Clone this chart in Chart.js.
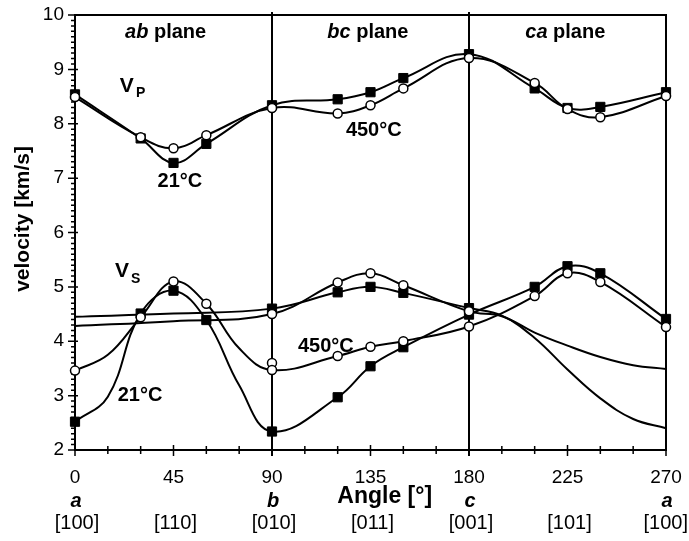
<!DOCTYPE html>
<html>
<head>
<meta charset="utf-8">
<script src="https://cdn.jsdelivr.net/npm/chart.js@4.4.1/dist/chart.umd.min.js"></script>
<style>
  body { margin: 0; background: #fff; }
</style>
</head>
<body>
<canvas id="chart" width="689" height="541"></canvas>
<script>
// measured directions (degrees)
const anglesVp = [0, 30, 45, 60, 90, 120, 135, 150, 180, 210, 225, 240, 270];
// Vs curves also read at a few unmarked angles to keep their shape
const anglesA = [0, 15, 30, 45, 60, 75, 90, 120, 135, 150, 180, 210, 225, 240, 270];
const anglesB = [0, 45, 90, 120, 135, 150, 180, 195, 210, 225, 240, 255, 270];
const markedA = [0, 30, 45, 60, 90, 120, 135, 150, 180, 210, 225, 240, 270];
const markedB = [90, 120, 135, 150, 180];

// Vp [km/s]
const vp21 = [8.54, 7.73, 7.28, 7.63, 8.34, 8.45, 8.58, 8.84, 9.28, 8.65, 8.29, 8.31, 8.58];
const vp450 = [8.49, 7.75, 7.55, 7.79, 8.29, 8.19, 8.34, 8.65, 9.21, 8.75, 8.27, 8.12, 8.51];

// Vs [km/s]: curve A peaks at 45 and 225, curve B peaks at 135
const vsA21 = [2.52, 2.98, 4.51, 4.93, 4.39, 3.19, 2.34, 2.97, 3.54, 3.89, 4.49, 5.00, 5.38, 5.25, 4.41];
const vsA450 = [3.46, 3.75, 4.44, 5.10, 4.69, 3.87, 3.47, 3.73, 3.90, 4.00, 4.27, 4.83, 5.25, 5.09, 4.26];
const vsB21 = [4.45, 4.51, 4.60, 4.90, 5.00, 4.89, 4.61, 4.47, 4.06, 3.48, 2.95, 2.57, 2.40];
const vsB450 = [4.28, 4.37, 4.50, 5.08, 5.25, 5.03, 4.55, 4.46, 4.16, 3.92, 3.71, 3.56, 3.49];
// second 450 °C reading along b (end of the ab-plane scan)
const anglesExtra450 = [90];
const vsExtra450 = [3.60];

// labels under the x axis
const planeEdges = [90, 180];
const axisLetterAngles = [0, 90, 180, 270];
const axisLetters = ['a', 'b', 'c', 'a'];
const directionAngles = [0, 45, 90, 135, 180, 225, 270];
const directions = ['[100]', '[110]', '[010]', '[011]', '[001]', '[101]', '[100]'];

const FF = '"Liberation Sans", Arial, sans-serif';

function series(angles, values, marker, marked, line) {
  const show = marked || angles;
  const size = marker === 'square' ? 6.5 : marker === 'circle' ? 4.5 : 0;
  const ds = {
    data: angles.map((a, i) => ({ x: a, y: values[i] })),
    showLine: line !== false,
    borderColor: '#000',
    borderWidth: 2,
    tension: 0.4,
    fill: false,
    clip: false,
    pointRadius: c => show.includes(angles[c.dataIndex]) ? size : 0,
    pointHoverRadius: c => show.includes(angles[c.dataIndex]) ? size : 0
  };
  if (marker === 'square') {
    Object.assign(ds, { pointStyle: 'rect', pointBackgroundColor: '#000',
      pointBorderColor: '#000', pointBorderWidth: 1 });
  } else if (marker === 'circle') {
    Object.assign(ds, { pointStyle: 'circle', pointBackgroundColor: '#fff',
      pointBorderColor: '#000', pointBorderWidth: 1.5 });
  }
  return ds;
}

// first dataset is painted last (on top)
const datasets = [
  series(anglesVp, vp450, 'circle'),
  series(anglesA, vsA450, 'circle', markedA),
  series(anglesB, vsB450, 'circle', markedB),
  series(anglesExtra450, vsExtra450, 'circle', null, false),
  series(anglesVp, vp21, 'square'),
  series(anglesA, vsA21, 'square', markedA),
  series(anglesB, vsB21, 'square', markedB)
];

function text(ctx, str, px, py, font, align) {
  ctx.font = font;
  ctx.textAlign = align || 'center';
  ctx.textBaseline = 'middle';
  ctx.fillText(str, px, py);
}

// several font parts centred as one string
function mixed(ctx, parts, cx, cy) {
  let total = 0;
  parts.forEach(p => { ctx.font = p[1]; total += ctx.measureText(p[0]).width; });
  let px = cx - total / 2;
  parts.forEach(p => {
    text(ctx, p[0], px, cy, p[1], 'left');
    ctx.font = p[1];
    px += ctx.measureText(p[0]).width;
  });
}

const decor = {
  id: 'decor',
  beforeDatasetsDraw(chart) {
    const { ctx, chartArea: a, scales: { x, y } } = chart;
    ctx.save();
    ctx.strokeStyle = '#000';
    ctx.lineWidth = 2;
    ctx.strokeRect(a.left, a.top, a.right - a.left, a.bottom - a.top);
    ctx.beginPath();
    planeEdges.forEach(d => {
      const px = x.getPixelForValue(d);
      ctx.moveTo(px, a.top - 3);
      ctx.lineTo(px, a.bottom + 6);
    });
    ctx.stroke();

    ctx.lineWidth = 1.5;
    ctx.beginPath();
    for (let d = 0; d <= 270; d += 15) {
      const px = x.getPixelForValue(d);
      const major = d % 45 === 0;
      ctx.moveTo(px, a.bottom - (major ? 5 : 4));
      ctx.lineTo(px, a.bottom + (major ? 6 : 4));
    }
    for (let k = 20; k <= 100; k++) {
      const py = y.getPixelForValue(k / 10);
      const major = k % 10 === 0;
      ctx.moveTo(a.left - (major ? 7 : 4), py);
      ctx.lineTo(a.left + (major ? 3 : 0), py);
    }
    ctx.stroke();
    ctx.restore();
  },
  afterDraw(chart) {
    const { ctx, chartArea: a, scales: { x, y } } = chart;
    const X = v => x.getPixelForValue(v);
    const Y = v => y.getPixelForValue(v);
    ctx.save();
    ctx.fillStyle = '#000';

    // plane names
    const bi = 'italic bold 20px ' + FF, b = 'bold 20px ' + FF;
    mixed(ctx, [['ab', bi], [' plane', b]], X(41.4), Y(9.67));
    mixed(ctx, [['bc', bi], [' plane', b]], X(133.8), Y(9.67));
    mixed(ctx, [['ca', bi], [' plane', b]], X(224), Y(9.67));

    // wave labels
    ctx.textBaseline = 'alphabetic';
    ctx.textAlign = 'left';
    ctx.font = 'bold 21px ' + FF;
    ctx.fillText('V', X(20.5), Y(8.58));
    const w = ctx.measureText('V').width;
    ctx.font = 'bold 14px ' + FF;
    ctx.fillText('P', X(20.5) + w + 2, Y(8.58) + 5);
    ctx.font = 'bold 21px ' + FF;
    ctx.fillText('V', X(18.3), Y(5.18));
    ctx.font = 'bold 14px ' + FF;
    ctx.fillText('S', X(18.3) + w + 2, Y(5.18) + 6);

    // temperatures
    text(ctx, '21°C', X(47.9), Y(6.93), b);
    text(ctx, '450°C', X(136.5), Y(7.88), b);
    text(ctx, '450°C', X(114.6), Y(3.91), b);
    text(ctx, '21°C', X(29.7), Y(3.01), b);

    // axis titles
    text(ctx, 'Angle [°]', X(141.5), a.bottom + 47, 'bold 23px ' + FF);
    ctx.save();
    ctx.translate(23, Y(6.25));
    ctx.rotate(-Math.PI / 2);
    text(ctx, 'velocity [km/s]', 0, 0, 'bold 21px ' + FF);
    ctx.restore();

    // crystal axes and directions
    axisLetters.forEach((s, i) => text(ctx, s, X(axisLetterAngles[i]) + 1, a.bottom + 51, 'italic bold 20px ' + FF));
    const df = '20px ' + FF;
    ctx.font = df;
    directions.forEach((s, i) => {
      const half = ctx.measureText(s).width / 2;
      const cx = Math.min(X(directionAngles[i]) + 2, chart.width - half - 1);
      text(ctx, s, cx, a.bottom + 73, df);
    });
    ctx.restore();
  }
};

new Chart(document.getElementById('chart'), {
  type: 'line',
  data: { datasets },
  options: {
    responsive: false,
    animation: false,
    events: [],
    layout: { padding: { left: 0, right: 23, top: 15, bottom: 0 } },
    plugins: { legend: { display: false }, tooltip: { enabled: false } },
    scales: {
      x: {
        type: 'linear', min: 0, max: 270,
        ticks: { stepSize: 45, color: '#000', font: { family: FF, size: 19 }, padding: 16, maxRotation: 0, autoSkip: false },
        grid: { display: false, drawTicks: false },
        border: { display: false },
        afterFit(s) { s.height = 91; s.paddingLeft = 0; s.paddingRight = 0; }
      },
      y: {
        min: 2, max: 10,
        ticks: { stepSize: 1, color: '#000', font: { family: FF, size: 19 }, padding: 11 },
        grid: { display: false, drawTicks: false },
        border: { display: false },
        afterFit(s) { s.width = 75; s.paddingTop = 0; s.paddingBottom = 0; }
      }
    }
  },
  plugins: [decor]
});
</script>
</body>
</html>
